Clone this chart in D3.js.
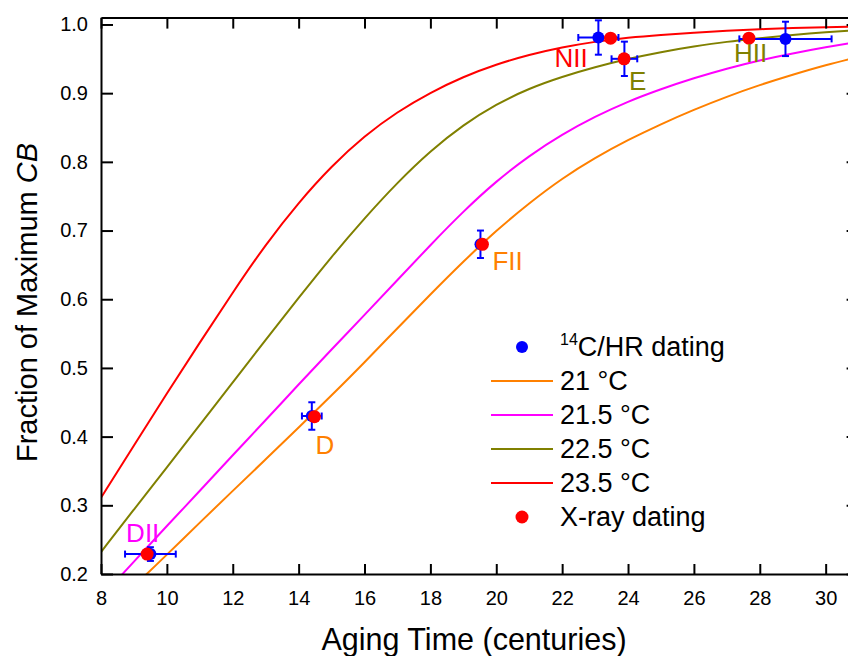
<!DOCTYPE html>
<html>
<head>
<meta charset="utf-8">
<script src="https://cdn.jsdelivr.net/npm/d3@7/dist/d3.min.js"></script>
<style>
body { margin: 0; background: #fff; }
text { font-family: "Liberation Sans", Arial, sans-serif; fill: #000; }
</style>
</head>
<body>
<div id="chart"></div>
<script>
var width = 848, height = 656;

// model curves at each century
var ageTime = [8, 9, 10, 11, 12, 13, 14, 15, 16, 17, 18, 19, 20, 21, 22, 23, 24, 25, 26, 27, 28, 29, 30, 31];
var frac21  = [0.140, 0.182, 0.228, 0.275, 0.321, 0.367, 0.413, 0.460, 0.508, 0.558, 0.607, 0.655, 0.700, 0.740, 0.776, 0.806, 0.832, 0.855, 0.876, 0.895, 0.912, 0.927, 0.941, 0.953];
var frac215 = [0.166, 0.218, 0.270, 0.321, 0.373, 0.424, 0.476, 0.527, 0.577, 0.628, 0.679, 0.728, 0.772, 0.809, 0.840, 0.866, 0.888, 0.906, 0.922, 0.936, 0.948, 0.958, 0.967, 0.975];
var frac225 = [0.232, 0.294, 0.355, 0.417, 0.479, 0.541, 0.602, 0.662, 0.718, 0.770, 0.816, 0.854, 0.884, 0.907, 0.924, 0.938, 0.950, 0.960, 0.968, 0.975, 0.980, 0.985, 0.989, 0.992];
var frac235 = [0.311, 0.387, 0.463, 0.537, 0.610, 0.680, 0.741, 0.794, 0.838, 0.873, 0.901, 0.924, 0.942, 0.956, 0.967, 0.975, 0.981, 0.985, 0.988, 0.991, 0.993, 0.995, 0.996, 0.997];

var seriesNames = ["21 \u00b0C", "21.5 \u00b0C", "22.5 \u00b0C", "23.5 \u00b0C"];
var seriesValues = [frac21, frac215, frac225, frac235];
var seriesColors = ["#ff8000", "#ff00ff", "#808000", "#ff0000"];

// samples
var sampleNames = ["DII", "D", "FII", "NII", "E", "HII"];
var hrTime    = [9.5, 14.4, 19.52, 23.1, 23.89, 28.78];
var hrTimeErr = [0.77, 0.3, 0, 0.61, 0.39, 1.4];
var hrFrac    = [0.229, 0.43, 0.68, 0.981, 0.95, 0.979];
var hrFracErr = [0.01, 0.02, 0.02, 0.025, 0.025, 0.025];
var xrayTime  = [9.4, 14.48, 19.58, 23.47, 23.88, 27.67];
var xrayFrac  = [0.229, 0.429, 0.68, 0.98, 0.95, 0.98];

var labelColors = ["#ff00ff", "#ff8000", "#ff8000", "#ff0000", "#808000", "#808000"];
var labelOffsets = [[-21, -12], [1, 37], [10, 26], [-56, 29], [5, 31], [-15, 24]];

var xTicks = [8, 10, 12, 14, 16, 18, 20, 22, 24, 26, 28, 30];
var yTicks = [0.2, 0.3, 0.4, 0.5, 0.6, 0.7, 0.8, 0.9, 1.0];

var plotLeft = 101, plotRight = 858.6, plotTop = 17.6, plotBottom = 574;

var x = d3.scaleLinear().domain([8, 31]).range([plotLeft, plotRight]);
var y = d3.scaleLinear().domain([0.2, 1.01]).range([plotBottom, plotTop]);

var svg = d3.select("#chart").append("svg")
  .attr("width", width)
  .attr("height", height)
  .style("background", "#fff");

svg.append("clipPath").attr("id", "plot")
  .append("rect")
  .attr("x", plotLeft).attr("y", plotTop)
  .attr("width", plotRight - plotLeft).attr("height", plotBottom - plotTop);

// curves
var line = d3.line()
  .x(function(d){ return x(d[0]); })
  .y(function(d){ return y(d[1]); })
  .curve(d3.curveBasis);

var curves = svg.append("g").attr("clip-path", "url(#plot)");
seriesValues.forEach(function(vals, i){
  curves.append("path")
    .datum(ageTime.map(function(t, j){ return [t, vals[j]]; }))
    .attr("fill", "none")
    .attr("stroke", seriesColors[i])
    .attr("stroke-width", 2)
    .attr("d", line);
});

// axes
function styleAxis(g){
  g.attr("font-size", 20).attr("font-family", null);
  g.select(".domain").attr("stroke", "#000").attr("stroke-width", 2);
  g.selectAll(".tick line").attr("stroke", "#000").attr("stroke-width", 2);
}

svg.append("g")
  .attr("transform", "translate(0," + plotBottom + ")")
  .call(d3.axisBottom(x).tickValues(xTicks).tickSize(-10).tickSizeOuter(0).tickPadding(17).tickFormat(d3.format("d")))
  .call(styleAxis);

svg.append("g")
  .attr("transform", "translate(0," + plotTop + ")")
  .call(d3.axisTop(x).tickValues(xTicks).tickSize(-11).tickSizeOuter(0).tickFormat(""))
  .call(styleAxis);

svg.append("g")
  .attr("transform", "translate(" + plotLeft + ",0)")
  .call(d3.axisLeft(y).tickValues(yTicks).tickSize(-12).tickSizeOuter(0).tickPadding(13).tickFormat(d3.format(".1f")))
  .call(styleAxis);

svg.append("g")
  .attr("transform", "translate(" + plotRight + ",0)")
  .call(d3.axisRight(y).tickValues(yTicks).tickSize(-12).tickSizeOuter(0).tickFormat(""))
  .call(styleAxis);

// axis titles
svg.append("text")
  .attr("x", 474).attr("y", 650)
  .attr("text-anchor", "middle")
  .attr("font-size", 30.5)
  .text("Aging Time (centuries)");

var yt = svg.append("text")
  .attr("transform", "translate(37,462) rotate(-90)")
  .attr("font-size", 29);
yt.append("tspan").text("Fraction of Maximum ");
yt.append("tspan").attr("font-style", "italic").text("CB");

// error bars for 14C/HR dating
var blue = "#0000ff", cap = 3.5;
var bars = svg.append("g").attr("stroke", blue).attr("stroke-width", 2);
hrTime.forEach(function(t, i){
  var cx = x(t), cy = y(hrFrac[i]);
  if (hrTimeErr[i] > 0) {
    var x0 = x(t - hrTimeErr[i]), x1 = x(t + hrTimeErr[i]);
    bars.append("line").attr("x1", x0).attr("x2", x1).attr("y1", cy).attr("y2", cy);
    bars.append("line").attr("x1", x0).attr("x2", x0).attr("y1", cy - cap).attr("y2", cy + cap);
    bars.append("line").attr("x1", x1).attr("x2", x1).attr("y1", cy - cap).attr("y2", cy + cap);
  }
  var y0 = y(hrFrac[i] - hrFracErr[i]), y1 = y(hrFrac[i] + hrFracErr[i]);
  bars.append("line").attr("x1", cx).attr("x2", cx).attr("y1", y0).attr("y2", y1);
  bars.append("line").attr("x1", cx - cap).attr("x2", cx + cap).attr("y1", y0).attr("y2", y0);
  bars.append("line").attr("x1", cx - cap).attr("x2", cx + cap).attr("y1", y1).attr("y2", y1);
});

svg.append("g").selectAll("circle")
  .data(hrTime)
  .enter().append("circle")
  .attr("cx", function(d){ return x(d); })
  .attr("cy", function(d, i){ return y(hrFrac[i]); })
  .attr("r", 6)
  .attr("fill", blue);

svg.append("g").selectAll("circle")
  .data(xrayTime)
  .enter().append("circle")
  .attr("cx", function(d){ return x(d); })
  .attr("cy", function(d, i){ return y(xrayFrac[i]); })
  .attr("r", 6.5)
  .attr("fill", "#ff0000");

// sample labels
svg.append("g").selectAll("text")
  .data(sampleNames)
  .enter().append("text")
  .attr("x", function(d, i){ return x(xrayTime[i]) + labelOffsets[i][0]; })
  .attr("y", function(d, i){ return y(xrayFrac[i]) + labelOffsets[i][1]; })
  .attr("font-size", 26)
  .style("fill", function(d, i){ return labelColors[i]; })
  .text(function(d){ return d; });

// legend
var legend = svg.append("g");
var ly = 347, step = 34;
legend.append("circle").attr("cx", 522).attr("cy", ly).attr("r", 6).attr("fill", blue);
var lt = legend.append("text").attr("x", 560).attr("y", ly + 9).attr("font-size", 27);
lt.append("tspan").attr("font-size", 16).attr("dy", -11).text("14");
lt.append("tspan").attr("dy", 11).text("C/HR dating");

seriesNames.forEach(function(name, i){
  var yy = ly + step * (i + 1);
  legend.append("line")
    .attr("x1", 491).attr("x2", 553)
    .attr("y1", yy).attr("y2", yy)
    .attr("stroke", seriesColors[i]).attr("stroke-width", 2);
  legend.append("text").attr("x", 560).attr("y", yy + 9).attr("font-size", 27).text(name);
});

var ry = ly + step * 5;
legend.append("circle").attr("cx", 522).attr("cy", ry).attr("r", 6.5).attr("fill", "#ff0000");
legend.append("text").attr("x", 560).attr("y", ry + 9).attr("font-size", 27).text("X-ray dating");
</script>
</body>
</html>
